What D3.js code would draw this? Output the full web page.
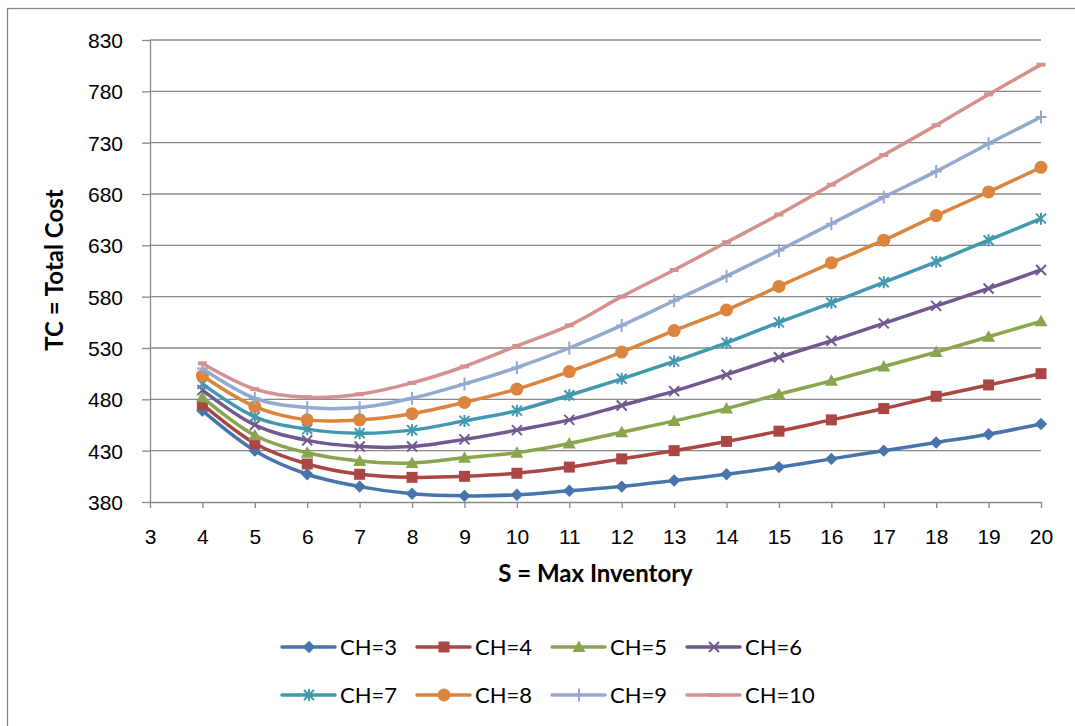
<!DOCTYPE html>
<html>
<head>
<meta charset="utf-8">
<script src="https://cdn.jsdelivr.net/npm/d3@7"></script>
<style>
  body { margin: 0; background: #fff; overflow: hidden; }
  svg { display: block; font-family: Lato, 'Open Sans', sans-serif; }
  .grid line { stroke: #888; stroke-width: 1.3; }
  .axis path, .axis line { stroke: #888; stroke-width: 1.3; }
  .axis text { fill: #000; font-size: 21px; }
  .title { font-weight: bold; font-size: 24px; fill: #000; }
  .legend text { font-size: 22px; fill: #000; }
</style>
</head>
<body>
<svg id="chart" width="1075" height="726"></svg>
<script>
// S = max inventory (x), one array of TC values per holding cost CH
const sValues = [4, 5, 6, 7, 8, 9, 10, 11, 12, 13, 14, 15, 16, 17, 18, 19, 20];
const seriesNames = ['CH=3', 'CH=4', 'CH=5', 'CH=6', 'CH=7', 'CH=8', 'CH=9', 'CH=10'];
const tcCH3 = [469, 430, 407, 395, 388, 386, 387, 391, 395, 401, 407, 414, 422, 430, 438, 446, 456];
const tcCH4 = [475, 437, 417, 407, 404, 405, 408, 414, 422, 430, 439, 449, 460, 471, 483, 494, 505];
const tcCH5 = [482, 445, 428, 420, 418, 423, 428, 437, 448, 459, 471, 485, 498, 512, 526, 541, 556];
const tcCH6 = [489, 455, 440, 434, 434, 441, 450, 460, 474, 488, 504, 521, 537, 554, 571, 588, 606];
const tcCH7 = [495, 463, 451, 447, 450, 459, 469, 484, 500, 517, 535, 555, 574, 594, 614, 635, 656];
const tcCH8 = [503, 473, 460, 460, 466, 477, 490, 507, 526, 547, 567, 590, 613, 635, 659, 682, 706];
const tcCH9 = [510, 481, 472, 472, 481, 495, 511, 530, 552, 576, 600, 625, 651, 677, 702, 729, 755];
const tcCH10 = [515, 490, 482, 485, 496, 512, 532, 552, 580, 606, 633, 660, 689, 718, 747, 777, 806];
const xTicks = [3, 4, 5, 6, 7, 8, 9, 10, 11, 12, 13, 14, 15, 16, 17, 18, 19, 20];
const yTicks = [380, 430, 480, 530, 580, 630, 680, 730, 780, 830];

const colors = ['#4674AB', '#AA4644', '#89A54E', '#71588F', '#4198AF', '#DB843D', '#93A9CF', '#D4918F'];
const markers = ['diamond', 'square', 'triangle', 'cross', 'star', 'circle', 'plus', 'dash'];
const allTc = [tcCH3, tcCH4, tcCH5, tcCH6, tcCH7, tcCH8, tcCH9, tcCH10];

const svg = d3.select('#chart');
const plot = { left: 150, right: 1041, top: 40, bottom: 502 };

// chart border (only left and top edges fall inside the picture)
svg.append('rect')
  .attr('x', 7.5).attr('y', 8.5).attr('width', 1100).attr('height', 750)
  .attr('fill', 'none').attr('stroke', '#888').attr('stroke-width', 1.3);

const x = d3.scaleLinear().domain([3, 20]).range([plot.left, plot.right]);
const y = d3.scaleLinear().domain([380, 830]).range([plot.bottom, plot.top]);

// horizontal gridlines
svg.append('g').attr('class', 'grid')
  .selectAll('line').data(yTicks.slice(1)).enter().append('line')
  .attr('x1', plot.left).attr('x2', plot.right)
  .attr('y1', d => y(d)).attr('y2', d => y(d));

const yAxis = svg.append('g').attr('class', 'axis')
  .attr('transform', `translate(${plot.left},0)`)
  .call(d3.axisLeft(y).tickValues(yTicks).tickSize(8).tickSizeOuter(0).tickPadding(19));
yAxis.selectAll('text').attr('dy', '0.36em');

svg.append('g').attr('class', 'axis')
  .attr('transform', `translate(0,${plot.bottom})`)
  .call(d3.axisBottom(x).tickValues(xTicks).tickSize(6).tickSizeOuter(0).tickPadding(21));

svg.append('text').attr('class', 'title')
  .attr('x', (plot.left + plot.right) / 2).attr('y', 582)
  .attr('text-anchor', 'middle').text('S = Max Inventory');

svg.append('text').attr('class', 'title')
  .attr('transform', 'translate(63,270) rotate(-90)')
  .attr('text-anchor', 'middle').text('TC = Total Cost');

function markerPath(type) {
  const p = d3.path();
  switch (type) {
    case 'diamond':
      p.moveTo(0, -6.2); p.lineTo(6.2, 0); p.lineTo(0, 6.2); p.lineTo(-6.2, 0); p.closePath(); break;
    case 'square':
      p.rect(-5.5, -5.5, 11, 11); break;
    case 'triangle':
      p.moveTo(0, -6.5); p.lineTo(6.5, 5); p.lineTo(-6.5, 5); p.closePath(); break;
    case 'cross':
      p.moveTo(-5, -5); p.lineTo(5, 5); p.moveTo(5, -5); p.lineTo(-5, 5); break;
    case 'star':
      p.moveTo(-5, -5); p.lineTo(5, 5); p.moveTo(5, -5); p.lineTo(-5, 5);
      p.moveTo(0, -6); p.lineTo(0, 6); break;
    case 'circle':
      p.arc(0, 0, 6.5, 0, 2 * Math.PI); break;
    case 'plus':
      p.moveTo(-5.5, 0); p.lineTo(5.5, 0); p.moveTo(0, -6.5); p.lineTo(0, 6.5); break;
    case 'dash':
      p.moveTo(-4.5, 0); p.lineTo(4.5, 0); break;
  }
  return p.toString();
}
const stroked = { cross: 2, star: 2, plus: 2, dash: 4 };

function drawMarker(g, type, color) {
  const path = g.append('path').attr('d', markerPath(type));
  if (stroked[type]) {
    path.attr('fill', 'none').attr('stroke', color).attr('stroke-width', stroked[type]);
  } else {
    path.attr('fill', color);
  }
}

const line = d3.line()
  .x((d, i) => x(sValues[i]))
  .y(d => y(d))
  .curve(d3.curveCardinal.tension(0));

allTc.forEach((values, k) => {
  const g = svg.append('g');
  g.append('path').datum(values)
    .attr('d', line)
    .attr('fill', 'none')
    .attr('stroke', colors[k])
    .attr('stroke-width', 3.5)
    .attr('stroke-linejoin', 'round');
  values.forEach((v, i) => {
    const m = g.append('g').attr('transform', `translate(${x(sValues[i])},${y(v)})`);
    drawMarker(m, markers[k], colors[k]);
  });
});

// legend, 4 items per row
const legend = svg.append('g').attr('class', 'legend');
seriesNames.forEach((name, k) => {
  const col = k % 4, row = Math.floor(k / 4);
  const g = legend.append('g').attr('transform', `translate(${282 + col * 135},${647 + row * 48})`);
  g.append('line').attr('x1', 0).attr('x2', 53).attr('y1', 0).attr('y2', 0)
    .attr('stroke', colors[k]).attr('stroke-width', 3.5).attr('stroke-linecap', 'round');
  drawMarker(g.append('g').attr('transform', 'translate(27,0)'), markers[k], colors[k]);
  g.append('text').attr('x', 58).attr('y', 0).attr('dy', '0.36em').text(name);
});
</script>
</body>
</html>
